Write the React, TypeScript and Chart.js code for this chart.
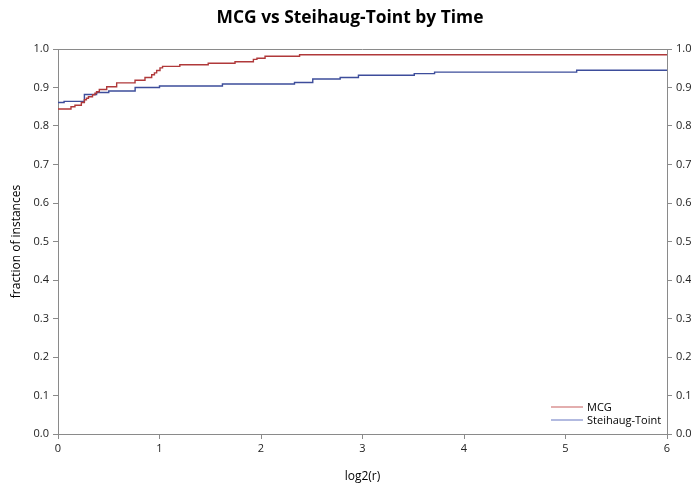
import React, { useEffect, useRef } from "react";
import { Chart, registerables } from "chart.js";
Chart.register(...registerables);

const titleText = "MCG vs Steihaug-Toint by Time";
const xTitle = "log2(r)";
const yTitle = "fraction of instances";
const seriesNames = ["MCG", "Steihaug-Toint"];

const mcgX = [0, 0.128, 0.167, 0.23, 0.26, 0.28, 0.3, 0.34, 0.364, 0.38, 0.407, 0.48, 0.578, 0.759, 0.857, 0.923, 0.95, 0.972, 1.005, 1.03, 1.2, 1.48, 1.744, 1.925, 1.96, 2.04, 2.38, 6];
const mcgY = [0.844, 0.85, 0.854, 0.861, 0.868, 0.872, 0.876, 0.881, 0.885, 0.889, 0.895, 0.902, 0.912, 0.919, 0.926, 0.933, 0.938, 0.944, 0.951, 0.955, 0.959, 0.963, 0.967, 0.973, 0.976, 0.981, 0.985, 0.985];

const stX = [0, 0.06, 0.26, 0.38, 0.5, 0.76, 1.0, 1.62, 2.33, 2.51, 2.78, 2.96, 3.51, 3.71, 5.11, 6];
const stY = [0.861, 0.864, 0.882, 0.887, 0.891, 0.9, 0.904, 0.909, 0.913, 0.922, 0.926, 0.932, 0.936, 0.94, 0.945, 0.945];

const RED = "#b0393a";
const BLUE = "#3d4d9b";
const RED_L = "#d07878";
const BLUE_L = "#7f8ccc";
const GRAY = "#8a8a8a";
const FONT = "'Open Sans', 'Noto Sans', sans-serif";

export default function App() {
  const ref = useRef<HTMLCanvasElement>(null);
  useEffect(() => {
    if (!ref.current) return;
    const deco = {
      id: "deco",
      afterDraw(chart: any) {
        const { ctx, chartArea: a } = chart;
        ctx.save();
        ctx.strokeStyle = GRAY;
        ctx.lineWidth = 1;
        ctx.beginPath();
        ctx.moveTo(a.left, a.top + 0.5);
        ctx.lineTo(a.right, a.top + 0.5);
        ctx.stroke();
        // title
        ctx.fillStyle = "#000";
        ctx.font = `bold 17.4px ${FONT}`;
        ctx.textAlign = "center";
        ctx.textBaseline = "middle";
        ctx.fillText(titleText, 350, 18);
        // axis titles
        ctx.font = `12px ${FONT}`;
        ctx.fillStyle = "#000";
        ctx.fillText(xTitle, (a.left + a.right) / 2, 477);
        ctx.save();
        ctx.translate(17, (a.top + a.bottom) / 2);
        ctx.rotate(-Math.PI / 2);
        ctx.fillText(yTitle, 0, 0);
        ctx.restore();
        // legend
        ctx.font = `11px ${FONT}`;
        ctx.textAlign = "left";
        const items = [
          { name: seriesNames[0], color: RED_L, y: 407 },
          { name: seriesNames[1], color: BLUE_L, y: 420 },
        ];
        for (const it of items) {
          ctx.strokeStyle = it.color;
          ctx.lineWidth = 1.2;
          ctx.beginPath();
          ctx.moveTo(551, it.y);
          ctx.lineTo(583, it.y);
          ctx.stroke();
          ctx.fillStyle = "#000";
          ctx.fillText(it.name, 587, it.y + 1);
        }
        ctx.restore();
      },
    };
    const tickFont = { family: FONT, size: 11 };
    const chart = new Chart(ref.current, {
      type: "line",
      data: {
        datasets: [
          {
            label: seriesNames[0],
            data: mcgX.map((x, i) => ({ x, y: mcgY[i] })),
            borderColor: RED,
            borderWidth: 1.4,
            pointRadius: 0,
            stepped: "before",
            fill: false,
          },
          {
            label: seriesNames[1],
            data: stX.map((x, i) => ({ x, y: stY[i] })),
            borderColor: BLUE,
            borderWidth: 1.4,
            pointRadius: 0,
            stepped: "before",
            fill: false,
          },
        ],
      },
      options: {
        animation: false,
        responsive: false,
        devicePixelRatio: 1,
        layout: { padding: { top: 49, left: 0, right: 0, bottom: 0 } },
        plugins: { legend: { display: false }, title: { display: false }, tooltip: { enabled: false } },
        scales: {
          x: {
            type: "linear",
            min: 0,
            max: 6,
            afterFit: (s: any) => { s.height = 51; },
            ticks: { stepSize: 1, color: "#222", font: tickFont, padding: 3, maxRotation: 0 },
            grid: { display: true, drawOnChartArea: false, drawTicks: true, tickLength: 5, color: GRAY },
            border: { display: true, color: GRAY },
          },
          y: {
            type: "linear",
            position: "left",
            min: 0,
            max: 1,
            afterFit: (s: any) => { s.width = 58; },
            ticks: { stepSize: 0.1, color: "#222", font: tickFont, padding: 4, callback: (v: any) => Number(v).toFixed(1) },
            grid: { display: true, drawOnChartArea: false, drawTicks: true, tickLength: 5, color: GRAY },
            border: { display: true, color: GRAY },
          },
          y2: {
            type: "linear",
            position: "right",
            min: 0,
            max: 1,
            afterFit: (s: any) => { s.width = 24; },
            ticks: { stepSize: 0.1, color: "#222", font: tickFont, padding: 4, callback: (v: any) => Number(v).toFixed(1) },
            grid: { display: true, drawOnChartArea: false, drawTicks: true, tickLength: 5, color: GRAY },
            border: { display: true, color: GRAY },
          },
        },
      },
      plugins: [deco],
    } as any);
    return () => chart.destroy();
  }, []);
  return (
    <div style={{ position: "fixed", left: 0, top: 0, width: 691, height: 485, background: "#fff" }}>
      <canvas ref={ref} width={691} height={485} style={{ display: "block" }} />
    </div>
  );
}
